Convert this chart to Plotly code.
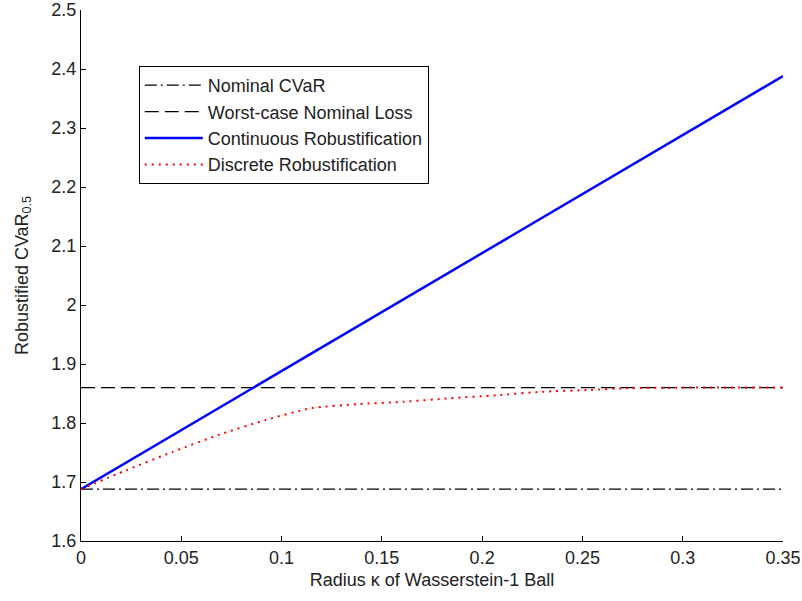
import plotly.graph_objects as go

# ---- data ----
kappa_ref = [0.0, 0.35]
nominal_cvar = [1.688, 1.688]
worst_case_loss = [1.86, 1.86]

kappa_cont = [0.0, 0.05, 0.10, 0.15, 0.20, 0.25, 0.30, 0.35]
continuous_rob = [1.688, 1.788, 1.888, 1.988, 2.088, 2.188, 2.288, 2.388]

kappa_disc = [0.0, 0.0226, 0.0457, 0.0688, 0.0919, 0.1147, 0.138, 0.161,
              0.184, 0.207, 0.230, 0.254, 0.272, 0.30, 0.35]
discrete_rob = [1.688, 1.720, 1.751, 1.780, 1.805, 1.825, 1.832, 1.836,
                1.842, 1.847, 1.853, 1.856, 1.859, 1.86, 1.86]

x_ticks = [0, 0.05, 0.1, 0.15, 0.2, 0.25, 0.3, 0.35]
y_ticks = [1.6, 1.7, 1.8, 1.9, 2.0, 2.1, 2.2, 2.3, 2.4, 2.5]

FONT = "Liberation Sans, Arial, sans-serif"

fig = go.Figure()
fig.add_trace(go.Scatter(x=kappa_ref, y=nominal_cvar, mode="lines", name="Nominal CVaR",
                         line=dict(color="black", width=1.2, dash="12px,4px,2px,4px")))
fig.add_trace(go.Scatter(x=kappa_ref, y=worst_case_loss, mode="lines", name="Worst-case Nominal Loss",
                         line=dict(color="black", width=1.2, dash="14px,6px")))
fig.add_trace(go.Scatter(x=kappa_cont, y=continuous_rob, mode="lines", name="Continuous Robustification",
                         line=dict(color="#0000ff", width=2.5)))
fig.add_trace(go.Scatter(x=kappa_disc, y=discrete_rob, mode="lines", name="Discrete Robustification",
                         line=dict(color="#ff0000", width=2, dash="2px,5px", shape="spline", smoothing=0.6)))

fig.update_layout(
    width=802, height=601,
    margin=dict(l=81, r=19, t=10, b=60),
    paper_bgcolor="white", plot_bgcolor="white",
    font=dict(family=FONT, size=18, color="#222"),
    showlegend=True,
    legend=dict(x=0.0823, y=0.8945, xanchor="left", yanchor="top",
                bgcolor="white", bordercolor="black", borderwidth=1,
                font=dict(family=FONT, size=18, color="#222"),
                itemwidth=58, tracegroupgap=0),
    xaxis=dict(range=[0, 0.3500001], tickvals=x_ticks, ticks="inside", ticklen=5,
               tickcolor="black", showline=True, linecolor="black", linewidth=1,
               showgrid=False, zeroline=False, mirror=False, automargin=False,
               ticklabeloverflow="allow",
               title=dict(text="Radius κ of Wasserstein-1 Ball", standoff=6,
                          font=dict(family=FONT, size=18))),
    yaxis=dict(range=[1.6, 2.5], tickvals=y_ticks, ticks="inside", ticklen=5,
               tickcolor="black", showline=True, linecolor="black", linewidth=1,
               showgrid=False, zeroline=False, mirror=False, automargin=False,
               ticklabeloverflow="allow",
               title=dict(text="Robustified CVaR<sub>0.5</sub>", standoff=18,
                          font=dict(family=FONT, size=18))),
)

fig.write_html("out.html", config={"displayModeBar": False},
               post_script="document.body.style.margin='0';")
